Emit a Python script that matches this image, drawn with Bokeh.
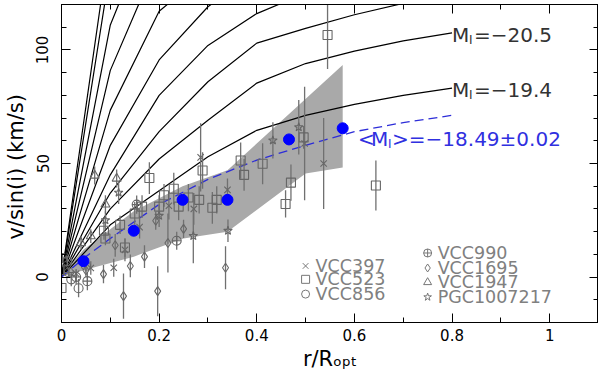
import numpy as np
from bokeh.plotting import figure
from bokeh.models import LinearAxis, Range1d, FixedTicker
from bokeh.core.properties import value
from bokeh.embed import file_html
from bokeh.resources import INLINE

FONT = "DejaVu Sans"

# ---------------- model rotation curves (v/sin(i) vs r/Ropt) ----------------
model_r = [0.0, 0.1, 0.2, 0.3, 0.4, 0.5, 0.6, 0.7, 0.8]
model_m19_4 = [0, 23, 38, 53, 64.6, 71.2, 76, 80, 83.2]
model_m20_5 = [0, 30, 52, 69, 85.4, 94, 99.5, 104, 107.5]
model_c3 = [0, 37, 64, 86, 103, 109.5, 115.5, 120.5, 125]
model_c4 = [0, 45, 80, 102, 116, 125, 132, 137, 141]
model_c5 = [0, 58, 95.6, 119, 135, 146, 153, 158, 162]
model_c6 = [0, 73.5, 117, 135, 150, 160, 167, 172, 176]
model_c7 = [0, 91, 141, 170, 190, 203, 212, 218, 222]
model_c8 = [0, 111, 164, 200, 225, 240, 250, 257, 262]
model_c9 = [0, 136, 210, 255, 285, 305, 318, 327, 333]
model_c10 = [0, 150, 235, 285, 318, 340, 354, 364, 371]
model_curves = [model_m19_4, model_m20_5, model_c3, model_c4, model_c5,
                model_c6, model_c7, model_c8, model_c9, model_c10]

label_m20_5 = "=\u221220.5"
label_m19_4 = "=\u221219.4"
label_mean = ">=\u221218.49\u00b10.02"

# ---------------- mean URC (dashed blue) ----------------
mean_r = [0.0, 0.05, 0.1, 0.2, 0.3, 0.4, 0.5, 0.6, 0.7, 0.8]
mean_v = [0, 9, 17, 32, 43, 51.5, 58, 64, 68, 71.2]

# ---------------- binned means (blue dots) ----------------
bin_r = [0.045, 0.148, 0.248, 0.34, 0.466, 0.576]
bin_v = [7, 20.4, 34, 34, 60.6, 65.5]

# ---------------- grey band ----------------
band_up_r = [0.0, 0.045, 0.148, 0.248, 0.34, 0.576]
band_up_v = [1, 12, 29, 40, 47, 93.4]
band_lo_r = [0.0, 0.045, 0.148, 0.25, 0.34, 0.5, 0.576]
band_lo_v = [0, 3, 9, 17, 20, 45.6, 48.2]

# ---------------- galaxies: r/Ropt, v/sin(i), error ----------------
vcc397_r = [0.03, 0.06, 0.107, 0.13, 0.16, 0.22, 0.271, 0.285, 0.34, 0.498, 0.537]
vcc397_v = [1.5, 4, 4.1, 12, 22, 31.4, 30, 52.7, 38.4, 58.8, 50]
vcc397_e = [2, 3, 4, 5, 5, 6, 7, 15, 5, 25, 20]

vcc523_r = [0.0, 0.087, 0.09, 0.12, 0.13, 0.15, 0.165, 0.18, 0.2, 0.21, 0.23, 0.24,
            0.26, 0.282, 0.289, 0.309, 0.318, 0.367, 0.374, 0.412, 0.459, 0.47,
            0.496, 0.545, 0.644]
vcc523_v = [-4.8, 20.4, 17, 23, 13, 28, 31, 43.6, 31, 36, 38.9, 31,
            35, 34, 46.9, 30.5, 34, 51.3, 45, 49.9, 32.2, 41.6,
            61.5, 106.6, 40.3]
vcc523_e = [3, 4, 3, 4, 4, 5, 5, 7, 5, 5, 7, 6,
            6, 6, 8, 7, 6, 8, 7, 9, 6, 8,
            5, 15, 11]

vcc856_r = [0.005, 0.012, 0.02, 0.035, 0.05]
vcc856_v = [3, 7, -1, -4.9, 5]
vcc856_e = [2, 2, 3, 4, 3]

vcc990_r = [0.002, 0.015, 0.03, 0.053, 0.154, 0.236]
vcc990_v = [8.4, 2, 0, -1.8, 31.9, 16]
vcc990_e = [2, 2, 3, 4, 4, 4]

vcc1695_r = [0.05, 0.086, 0.11, 0.127, 0.141, 0.17, 0.193, 0.197, 0.218, 0.25, 0.336]
vcc1695_v = [3, 1.3, 14, -8.4, 4.9, 9, 24.8, -6.2, 15, 21.2, 4.1]
vcc1695_e = [3, 4, 5, 10, 5, 5, 4, 11, 13, 4, 9.5]

vcc1947_r = [0.04, 0.06, 0.068, 0.09, 0.113]
vcc1947_v = [15, 18, 44.7, 32, 43.4]
vcc1947_e = [3, 3, 4, 4, 4]

pgc_r = [0.09, 0.117, 0.2, 0.27, 0.341, 0.433, 0.486]
pgc_v = [25, 37.2, 27, 18.1, 20.4, 60.2, 66]
pgc_e = [4, 5, 5, 12, 5, 8, 12]

galaxy_names = ["VCC397", "VCC523", "VCC856", "VCC990", "VCC1695", "VCC1947", "PGC1007217"]
galaxy_markers = ["x", "square", "circle", "circle_cross", "diamond", "triangle", "star"]
galaxies = [(vcc397_r, vcc397_v, vcc397_e), (vcc523_r, vcc523_v, vcc523_e),
            (vcc856_r, vcc856_v, vcc856_e), (vcc990_r, vcc990_v, vcc990_e),
            (vcc1695_r, vcc1695_v, vcc1695_e), (vcc1947_r, vcc1947_v, vcc1947_e),
            (pgc_r, pgc_v, pgc_e)]

x_ticks = [0, 0.2, 0.4, 0.6, 0.8, 1.0]
x_tick_labels = ["0", "0.2", "0.4", "0.6", "0.8", "1"]
x_minor = [0.1, 0.3, 0.5, 0.7, 0.9]
y_ticks = [0, 50, 100]
y_tick_labels = ["0", "50", "100"]
y_minor = [-20, -10, 10, 20, 30, 40, 60, 70, 80, 90, 110, 120]

# ---------------- figure ----------------
p = figure(frame_width=537, frame_height=318,
           x_range=Range1d(0, 1.1), y_range=Range1d(-20, 120),
           x_axis_location=None, y_axis_location=None,
           output_backend="svg", toolbar_location=None,
           min_border=0, min_border_top=4,
           background_fill_color="white", border_fill_color="white")
p.xgrid.visible = False
p.ygrid.visible = False
p.outline_line_color = "black"

xticker = FixedTicker(ticks=x_ticks, minor_ticks=x_minor)
yticker = FixedTicker(ticks=y_ticks, minor_ticks=y_minor)

bottom = LinearAxis(ticker=xticker)
left = LinearAxis(ticker=yticker)
top = LinearAxis(ticker=xticker)
right = LinearAxis(ticker=yticker)
p.add_layout(bottom, "below")
p.add_layout(left, "left")
p.add_layout(top, "above")
p.add_layout(right, "right")

for ax in [bottom, left, top, right]:
    ax.major_tick_in = 9
    ax.major_tick_out = 0
    ax.minor_tick_in = 5
    ax.minor_tick_out = 0
    ax.axis_line_color = "black"
    ax.major_tick_line_color = "black"
    ax.minor_tick_line_color = "black"
    ax.major_label_text_font = FONT
    ax.major_label_text_font_size = "15px"
    ax.major_label_text_color = "black"
    ax.axis_label_text_font = FONT
    ax.axis_label_text_font_size = "21px"
    ax.axis_label_text_font_style = "normal"
    ax.axis_label_text_color = "black"

bottom.major_label_overrides = {t: l for t, l in zip(x_ticks, x_tick_labels)}
left.major_label_overrides = {t: l for t, l in zip(y_ticks, y_tick_labels)}
top.major_label_overrides = {t: "" for t in x_ticks}
right.major_label_overrides = {t: "" for t in y_ticks}
for ax in [top, right]:
    ax.major_label_text_font_size = "1px"
    ax.major_label_standoff = 0

bottom.axis_label = "r/R\u2092\u209a\u209c"
bottom.major_label_standoff = 6
bottom.axis_label_standoff = 3
left.axis_label = "v/sin(i)  (km/s)"
left.major_label_orientation = "vertical"
left.major_label_standoff = 13
left.axis_label_standoff = 6

# grey band
band_x = band_up_r + band_lo_r[::-1]
band_y = band_up_v + band_lo_v[::-1]
p.patch(band_x, band_y, fill_color="#a9a9a9", line_color=None)

# model curves
for c in model_curves:
    p.line(model_r, c, line_color="black", line_width=1.2)

# mean URC
p.line(mean_r, mean_v, line_color="#2d2dd8", line_width=1.3, line_dash="9 5")

# galaxies
for (r, v, e), mk in zip(galaxies, galaxy_markers):
    r = np.array(r); v = np.array(v); e = np.array(e)
    p.segment(r, v - e, r, v + e, line_color="#707070", line_width=1.3)
    p.scatter(r, v, marker=mk, size=9, line_color="#666666", fill_color=None, line_width=1.1)

# binned means
p.scatter(bin_r, bin_v, marker="circle", size=11, fill_color="#0000ff", line_color="#0000ff")

# curve labels
for curve, lab in [(model_m20_5, label_m20_5), (model_m19_4, label_m19_4)]:
    xe, ye = model_r[-1], curve[-1]
    p.text([xe], [ye], text=["M"], text_font=value(FONT), text_font_size="20px",
           text_color="#333333", text_baseline="alphabetic", y_offset=2)
    p.text([xe], [ye], text=["I"], text_font=value(FONT), text_font_size="12px",
           text_color="#333333", text_baseline="alphabetic", x_offset=17, y_offset=7)
    p.text([xe], [ye], text=[lab], text_font=value(FONT), text_font_size="20px",
           text_color="#333333", text_baseline="alphabetic", x_offset=22, y_offset=2)

xe, ye = mean_r[-1], mean_v[-1]
blue = "#3030e0"
p.text([xe], [ye], text=["<"], text_font=value(FONT), text_font_size="20px",
       text_color=blue, text_baseline="alphabetic", x_offset=-94, y_offset=24)
p.text([xe], [ye], text=["M"], text_font=value(FONT), text_font_size="20px",
       text_color=blue, text_baseline="alphabetic", x_offset=-81, y_offset=24)
p.text([xe], [ye], text=["I"], text_font=value(FONT), text_font_size="12px",
       text_color=blue, text_baseline="alphabetic", x_offset=-64, y_offset=29)
p.text([xe], [ye], text=[label_mean], text_font=value(FONT), text_font_size="20px",
       text_color=blue, text_baseline="alphabetic", x_offset=-60, y_offset=24)

# legend (two columns)
leg_left_x, leg_left_y = 0.50, [4.9, -1.0, -7.5]
leg_right_x, leg_right_y = 0.75, [10.6, 4.0, -2.3, -8.8]
leg_pos = [(leg_left_x, yy) for yy in leg_left_y] + [(leg_right_x, yy) for yy in leg_right_y]
for (lx, ly), name, mk in zip(leg_pos, galaxy_names, galaxy_markers):
    p.scatter([lx], [ly], marker=mk, size=8, line_color="#777777", fill_color=None, line_width=1)
    p.text([lx], [ly], text=[name], text_font=value(FONT), text_font_size="17.5px",
           text_color="#808080", text_baseline="middle", x_offset=10)

open("out.html", "w").write(file_html(p, INLINE))
